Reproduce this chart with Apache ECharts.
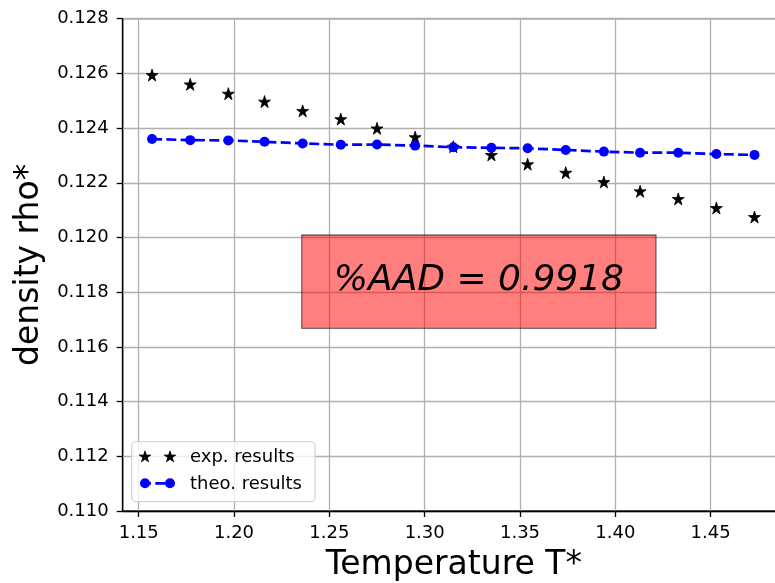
<!DOCTYPE html>
<html>
<head>
<meta charset="utf-8">
<script src="https://cdn.jsdelivr.net/npm/echarts@6/dist/echarts.min.js"></script>
<style>
html,body{margin:0;padding:0;background:#fff;}
#chart{width:775px;height:583px;}
</style>
</head>
<body>
<div id="chart"></div>
<script>
// ---- data ----
const temperature = [1.157, 1.177, 1.197, 1.216, 1.236, 1.256, 1.275, 1.295, 1.315, 1.335, 1.354, 1.374, 1.394, 1.413, 1.433, 1.453, 1.473];
const expRho = [0.12594, 0.12560, 0.12526, 0.12497, 0.12463, 0.12433, 0.12399, 0.12367, 0.12332, 0.12302, 0.12268, 0.12237, 0.12203, 0.12169, 0.12141, 0.12108, 0.12075];
const theoRho = [0.12360, 0.12356, 0.12355, 0.12350, 0.12344, 0.12339, 0.12340, 0.12336, 0.12330, 0.12328, 0.12326, 0.12320, 0.12314, 0.12310, 0.12310, 0.12305, 0.12302];
const seriesNames = ['exp. results', 'theo. results'];
const xTitle = 'Temperature T*';
const yTitle = 'density rho*';
const annotationText = '%AAD = 0.9918';

const FONT = 'DejaVu Sans';
const STAR_PTS = [[50,0],[61.23,34.55],[97.55,34.55],[68.17,55.9],[79.39,90.45],[50,69.1],[20.61,90.45],[31.83,55.9],[2.45,34.55],[38.77,34.55]];
const STAR = 'path://M' + STAR_PTS.map(p => p[0] + ' ' + p[1]).join(' L') + ' Z';

const chart = echarts.init(document.getElementById('chart'), null, {renderer: 'canvas'});

function starGraphic(cx, cy, s) {
  const k = s / 100;
  return {type: 'polygon', shape: {points: STAR_PTS.map(p => [cx + (p[0] - 50) * k, cy + (p[1] - 48) * k])},
    style: {fill: '#000', stroke: '#000', lineWidth: 0.8}, z: 110};
}

const option = {
  animation: false,
  backgroundColor: '#fff',
  grid: {left: 122.7, top: 18.7, right: -10, bottom: 72, outerBoundsMode: 'none', containLabel: false,
    show: true, borderColor: '#000', borderWidth: 1.3, backgroundColor: 'transparent'},
  xAxis: {
    type: 'value', min: 1.1416, max: 1.489,
    name: xTitle, nameLocation: 'middle', nameGap: 38,
    nameTextStyle: {fontFamily: FONT, fontSize: 33, color: '#000'},
    axisLine: {show: true, onZero: false, lineStyle: {color: '#000', width: 1.3}},
    axisTick: {show: true, length: 6, lineStyle: {color: '#000', width: 1.3}},
    axisLabel: {fontFamily: FONT, fontSize: 18, color: '#000', margin: 13, showMinLabel: false, showMaxLabel: false,
      formatter: v => v.toFixed(2)},
    splitLine: {show: true, lineStyle: {color: '#b0b0b0', width: 1.3}}
  },
  yAxis: {
    type: 'value', min: 0.110, max: 0.128, interval: 0.002,
    name: yTitle, nameLocation: 'middle', nameGap: 68, nameRotate: 90,
    nameTextStyle: {fontFamily: FONT, fontSize: 33, color: '#000'},
    axisLine: {show: true, onZero: false, lineStyle: {color: '#000', width: 1.3}},
    axisTick: {show: true, length: 6, lineStyle: {color: '#000', width: 1.3}},
    axisLabel: {fontFamily: FONT, fontSize: 18, color: '#000', margin: 14, formatter: v => v.toFixed(3)},
    splitLine: {show: true, lineStyle: {color: '#b0b0b0', width: 1.3}}
  },
  series: [
    {
      name: seriesNames[0], type: 'scatter', symbol: STAR, symbolSize: 12,
      itemStyle: {color: '#000', opacity: 1, borderColor: '#000', borderWidth: 0.8},
      data: temperature.map((t, i) => [t, expRho[i]]), z: 3
    },
    {
      name: seriesNames[1], type: 'line', symbol: 'circle', symbolSize: 10, showSymbol: true,
      itemStyle: {color: '#0000ff', opacity: 1},
      lineStyle: {color: '#0000ff', width: 2.7, type: [10, 4.3]},
      data: temperature.map((t, i) => [t, theoRho[i]]), z: 4
    }
  ],
  graphic: [
    {type: 'rect', shape: {x: 301.7, y: 235, width: 354.3, height: 93.3},
      style: {fill: 'rgba(255,0,0,0.5)', stroke: 'rgba(0,0,0,0.5)', lineWidth: 1.3}, z: 100},
    {type: 'text', x: 478.9, y: 281, z: 101,
      style: {text: annotationText, fontFamily: FONT, fontStyle: 'italic', fontSize: 36, fill: '#000', align: 'center', verticalAlign: 'middle'}},
    // legend
    {type: 'rect', shape: {x: 131.7, y: 441.7, width: 183.3, height: 60, r: 4},
      style: {fill: 'rgba(255,255,255,0.8)', stroke: 'rgba(204,204,204,0.8)', lineWidth: 1.3}, z: 105},
    starGraphic(145, 456.7, 12),
    starGraphic(170, 456.7, 12),
    {type: 'line', shape: {x1: 141, y1: 483.3, x2: 174, y2: 483.3},
      style: {stroke: '#0000ff', lineWidth: 2.7, lineDash: [10, 4.3]}, z: 110},
    {type: 'circle', shape: {cx: 145, cy: 483.3, r: 5}, style: {fill: '#0000ff'}, z: 111},
    {type: 'circle', shape: {cx: 170, cy: 483.3, r: 5}, style: {fill: '#0000ff'}, z: 111},
    {type: 'text', x: 190, y: 457.5, z: 110,
      style: {text: seriesNames[0], fontFamily: FONT, fontSize: 18, fill: '#000', verticalAlign: 'middle'}},
    {type: 'text', x: 190, y: 484, z: 110,
      style: {text: seriesNames[1], fontFamily: FONT, fontSize: 18, fill: '#000', verticalAlign: 'middle'}}
  ]
};
chart.setOption(option);
</script>
</body>
</html>
